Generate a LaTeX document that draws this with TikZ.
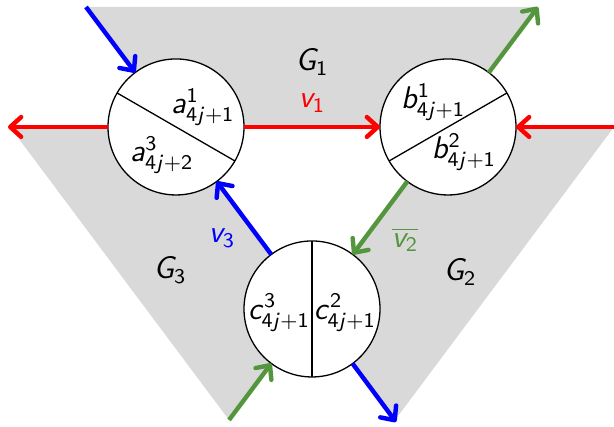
\documentclass[tikz,border=0pt]{standalone}
\usetikzlibrary{arrows.meta}
\DeclareSymbolFont{operators}{OT1}{cmss}{m}{n}
\DeclareSymbolFont{letters}{OT1}{cmss}{m}{sl}
\definecolor{flowgreen}{RGB}{84,150,62}

\begin{document}
\begin{tikzpicture}[
  every node/.style={font=\fontsize{11.5}{14}\selectfont},
  region/.style={fill=black!15},
  part/.style={circle, draw=black, line width=0.5pt, fill=white, minimum size=1.836cm, inner sep=0pt, outer sep=0pt},
  cut/.style={line width=0.5pt},
  flow/.style={line width=1.7pt, -{Straight Barb[length=4.2pt, width=7.6pt, round]}},
]
\useasboundingbox (0,0) rectangle (8.289,5.751);
\coordinate (ca) at (2.376,4.037);
\coordinate (cb) at (6.048,4.037);
\coordinate (cc) at (4.212,1.580);
\coordinate (tl) at (1.161,5.657);
\coordinate (tr) at (7.263,5.657);
\coordinate (lft) at (0.108,4.037);
\coordinate (rgt) at (8.289,4.037);
\coordinate (bl) at (3.092,0.081);
\coordinate (br) at (5.346,0.054);
\fill[region] (tl) -- (tr) -- (cb) -- (ca) -- cycle;
\fill[region] (cb) -- (rgt) -- (5.333,0.081) -- (cc) -- cycle;
\fill[region] (ca) -- (cc) -- (bl) -- (0.135,4.037) -- cycle;
\node at (4.212,4.914) (g1) {$G_1$};
\node at (6.210,2.079) (g2) {$G_2$};
\node at (2.295,2.106) (g3) {$G_3$};
\node[part] (a) at (ca) {};
\node[part] (b) at (cb) {};
\node[part] (c) at (cc) {};
\draw[cut] (a.150) -- (a.-30);
\draw[cut] (b.210) -- (b.30);
\draw[cut] (c.90) -- (c.270);
\node at ([shift={(0.365,0.270)}]a) (a1) {$a^{1}_{4j+1}$};
\node at ([shift={(-0.190,-0.380)}]a) (a3) {$a^{3}_{4j+2}$};
\node at ([shift={(-0.200,0.340)}]b) (b1) {$b^{1}_{4j+1}$};
\node at ([shift={(0.216,-0.340)}]b) (b2) {$b^{2}_{4j+1}$};
\node at ([shift={(-0.445,-0.050)}]c) (c3) {$c^{3}_{4j+1}$};
\node at ([shift={(0.445,-0.050)}]c) (c2) {$c^{2}_{4j+1}$};
% red
\draw[flow, red] (a) -- (lft);
\draw[flow, red] (a) -- (b);
\draw[flow, red] (rgt) -- (b);
\node[red] at (4.212,4.361) (v1) {$v_1$};
% green
\draw[flow, flowgreen] (b) -- (tr);
\draw[flow, flowgreen] (b) -- (c);
\draw[flow, flowgreen] (bl) -- (c);
\node[flowgreen] at (5.468,2.511) (v2) {$\overline{v_2}$};
% blue
\draw[flow, blue] (tl) -- (a);
\draw[flow, blue] (c) -- (a);
\draw[flow, blue] (c) -- (br);
\node[blue] at (2.997,2.538) (v3) {$v_3$};
\end{tikzpicture}
\end{document}
